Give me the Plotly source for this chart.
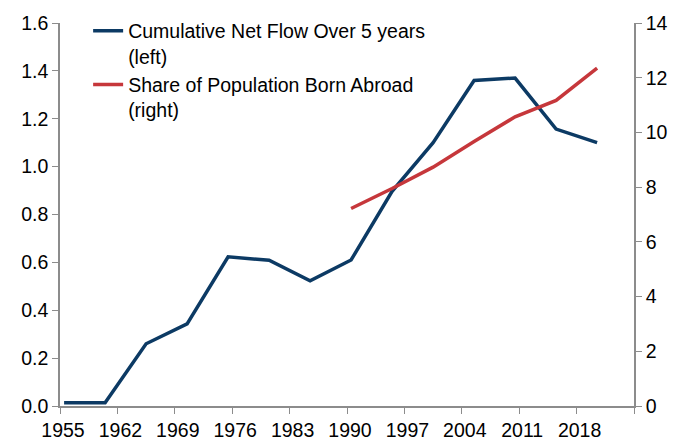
import plotly.graph_objects as go

# years of the 5-year windows (plotted mid-year)
years_flow = [1955, 1960, 1965, 1970, 1975, 1980, 1985, 1990, 1995, 2000, 2005, 2010, 2015, 2020]
net_flow = [0.014, 0.014, 0.26, 0.343, 0.623, 0.609, 0.523, 0.61, 0.897, 1.10, 1.36, 1.37, 1.157, 1.10]

years_share = [1990, 1995, 2000, 2005, 2010, 2015, 2020]
share_abroad = [7.22, 7.95, 8.73, 9.67, 10.57, 11.17, 12.35]

tick_years = list(range(1955, 2026, 7))
tick_text = [str(y) for y in tick_years[:-1]] + [""]

BLUE = "#0C3A64"
RED = "#C6373B"
AXIS = "#8C8C8C"
FONT = dict(family="Liberation Sans, Arial, sans-serif", size=19.5, color="#000000")

fig = go.Figure()

fig.add_trace(go.Scatter(
    x=[y + 0.5 for y in years_flow], y=net_flow,
    mode="lines",
    name="Cumulative Net Flow Over 5 years<br>(left)",
    line=dict(color=BLUE, width=3.5),
))

fig.add_trace(go.Scatter(
    x=[y + 0.5 for y in years_share], y=share_abroad,
    mode="lines",
    name="Share of Population Born Abroad<br>(right)",
    line=dict(color=RED, width=3.5),
    yaxis="y2",
))

fig.update_layout(
    width=678, height=441,
    margin=dict(l=60, r=44, t=21, b=35),
    paper_bgcolor="white",
    plot_bgcolor="white",
    font=FONT,
    xaxis=dict(
        range=[1955, 2025],
        tickvals=tick_years, ticktext=tick_text,
        showgrid=False, zeroline=False,
        showline=True, linecolor=AXIS, linewidth=1.5,
        ticks="outside", ticklen=6, tickcolor=AXIS,
        ticklabelshift=3, automargin=False,
    ),
    yaxis=dict(
        range=[0, 1.6], dtick=0.2, tickformat=".1f",
        showgrid=False, zeroline=False,
        showline=True, linecolor=AXIS, linewidth=1.5,
        ticks="outside", ticklen=6, tickcolor=AXIS,
        automargin=False,
    ),
    yaxis2=dict(
        range=[0, 14], dtick=2,
        overlaying="y", side="right",
        showgrid=False, zeroline=False,
        showline=True, linecolor=AXIS, linewidth=1.5,
        ticks="outside", ticklen=6, tickcolor=AXIS,
        automargin=False,
    ),
    legend=dict(
        x=0.049, y=1.03, xanchor="left", yanchor="top",
        bgcolor="rgba(0,0,0,0)",
        valign="top",
        tracegroupgap=3,
        font=FONT,
    ),
    showlegend=True,
)

# drop the page's default body margin so the figure sits at the window origin
fig.write_html(
    "out.html",
    config={"displayModeBar": False},
    post_script="document.body.style.margin='0px';",
)
